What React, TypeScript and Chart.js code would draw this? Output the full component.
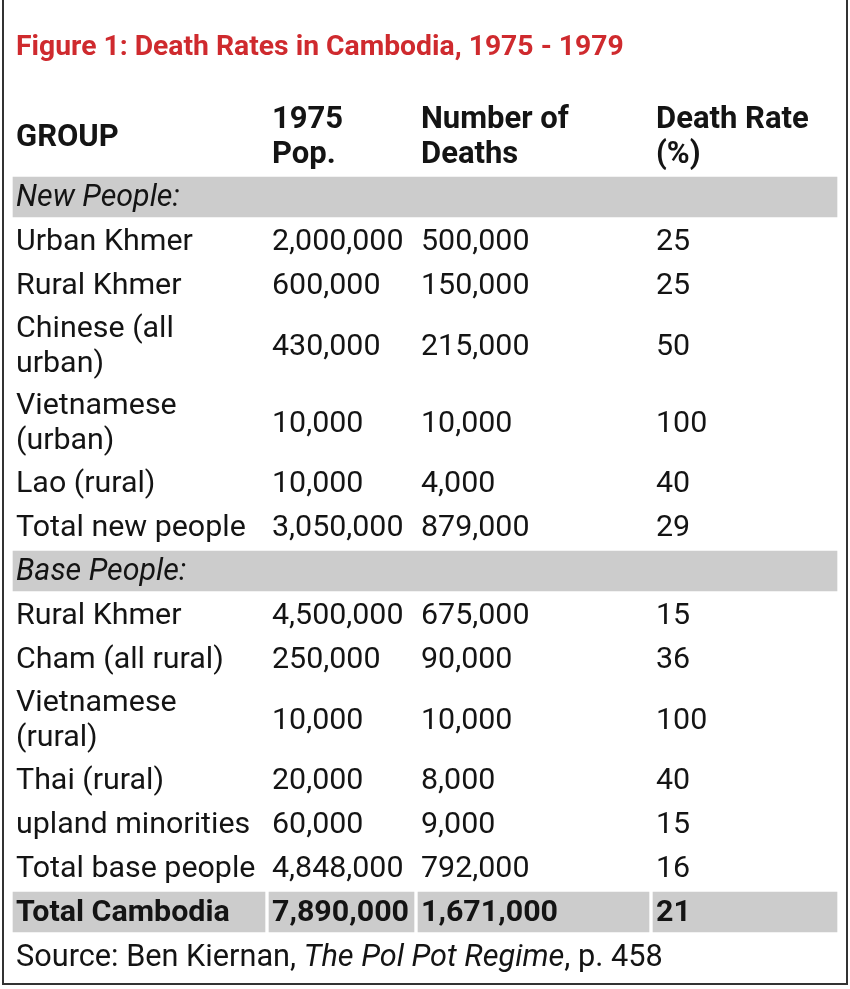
import React, { useEffect, useRef } from 'react';
import { Chart, registerables } from 'chart.js';

Chart.register(...registerables);

// ---- data ----
const TITLE = 'Figure 1: Death Rates in Cambodia, 1975 - 1979';
const HEADERS = [['GROUP'], ['1975', 'Pop.'], ['Number of', 'Deaths'], ['Death Rate', '(%)']];
const SECTIONS = ['New People:', 'Base People:'];

const NEW_GROUPS = ['Urban Khmer', 'Rural Khmer', 'Chinese (all|urban)', 'Vietnamese|(urban)', 'Lao (rural)', 'Total new people'];
const NEW_POP = [2000000, 600000, 430000, 10000, 10000, 3050000];
const NEW_DEATHS = [500000, 150000, 215000, 10000, 4000, 879000];
const NEW_RATE = [25, 25, 50, 100, 40, 29];

const BASE_GROUPS = ['Rural Khmer', 'Cham (all rural)', 'Vietnamese|(rural)', 'Thai (rural)', 'upland minorities', 'Total base people'];
const BASE_POP = [4500000, 250000, 10000, 20000, 60000, 4848000];
const BASE_DEATHS = [675000, 90000, 10000, 8000, 9000, 792000];
const BASE_RATE = [15, 36, 100, 40, 15, 16];

const TOTAL_LABEL = 'Total Cambodia';
const TOTAL_POP = 7890000;
const TOTAL_DEATHS = 1671000;
const TOTAL_RATE = 21;

const SOURCE_PARTS: [string, string][] = [
  ['Source: Ben Kiernan, ', 'normal'],
  ['The Pol Pot Regime', 'italic'],
  [', p. 458', 'normal'],
];

// ---- layout (styles / positions) ----
const W = 850;
const H = 989;
const COLS = [[13, 265], [269, 414], [418, 649], [653, 837]];
const PAD_X = 3;
const HEADER_TOP = 99;
const HEADER_H = 74;
const ROW_GAP = 4;
const SINGLE_H = 40;
const DOUBLE_H = 73;
const LINE_GAP = 35;
const BODY_SIZE = 30.4;
const SOURCE_SIZE = 30.7;
const HEAD_SIZE = 31;
const TITLE_SIZE = 28.3;
const FONT = 'Roboto, "Noto Sans", sans-serif';
const GRAY = '#cccccc';
const TEXT = '#141414';
const RED = '#cf2a2e';

const fmt = (n: number) => n.toLocaleString('en-US');

type Row = { kind: 'section' | 'data' | 'total'; cells: string[][]; top: number; h: number };

function buildRows(): Row[] {
  const rows: Row[] = [];
  let top = HEADER_TOP + HEADER_H + ROW_GAP;
  const push = (kind: Row['kind'], cells: string[][]) => {
    const lines = Math.max(...cells.map((c) => c.length));
    const h = lines > 1 ? DOUBLE_H : SINGLE_H;
    rows.push({ kind, cells, top, h });
    top += h + ROW_GAP;
  };
  const addGroup = (section: string, g: string[], p: number[], d: number[], r: number[]) => {
    push('section', [[section]]);
    g.forEach((name, i) => push('data', [name.split('|'), [fmt(p[i])], [fmt(d[i])], [String(r[i])]]));
  };
  addGroup(SECTIONS[0], NEW_GROUPS, NEW_POP, NEW_DEATHS, NEW_RATE);
  addGroup(SECTIONS[1], BASE_GROUPS, BASE_POP, BASE_DEATHS, BASE_RATE);
  push('total', [[TOTAL_LABEL], [fmt(TOTAL_POP)], [fmt(TOTAL_DEATHS)], [String(TOTAL_RATE)]]);
  return rows;
}

const ROWS = buildRows();
const SOURCE_TOP = ROWS[ROWS.length - 1].top + SINGLE_H + ROW_GAP;

// gray cell backgrounds, drawn as floating bars
const SHADES: { x: [number, number]; y: number }[] = [];
ROWS.forEach((row) => {
  const cy = row.top + row.h / 2;
  if (row.kind === 'section') SHADES.push({ x: [COLS[0][0], COLS[3][1]], y: cy });
  if (row.kind === 'total') COLS.forEach((c) => SHADES.push({ x: [c[0], c[1]], y: cy }));
});

const tablePlugin = {
  id: 'tableText',
  afterDatasetsDraw(chart: any) {
    const { ctx } = chart;
    const xs = chart.scales.x;
    const ys = chart.scales.y;
    const px = (v: number) => xs.getPixelForValue(v);
    const py = (v: number) => ys.getPixelForValue(v);

    const drawLines = (lines: string[], x: number, cy: number, size: number, style: string) => {
      ctx.font = style + ' ' + size + 'px ' + FONT;
      const cap = size * 0.62;
      lines.forEach((ln, i) => {
        const base = cy + (i - (lines.length - 1) / 2) * LINE_GAP + cap / 2;
        ctx.fillText(ln, px(x), py(base));
      });
    };

    ctx.save();
    ctx.textBaseline = 'alphabetic';
    ctx.textAlign = 'left';

    // title
    ctx.fillStyle = RED;
    drawLines([TITLE], COLS[0][0] + PAD_X, 46, TITLE_SIZE, 'bold');

    // header
    ctx.fillStyle = TEXT;
    const hc = HEADER_TOP + HEADER_H / 2;
    HEADERS.forEach((lines, i) => drawLines(lines, COLS[i][0] + PAD_X, hc, HEAD_SIZE, 'bold'));

    // body
    ROWS.forEach((row) => {
      const cy = row.top + row.h / 2;
      const style = row.kind === 'section' ? 'italic' : row.kind === 'total' ? 'bold' : 'normal';
      row.cells.forEach((lines, i) => drawLines(lines, COLS[i][0] + PAD_X, cy, BODY_SIZE, style));
    });

    // source line
    let sx = px(COLS[0][0] + PAD_X);
    const sb = py(SOURCE_TOP + SINGLE_H / 2 + (SOURCE_SIZE * 0.62) / 2);
    SOURCE_PARTS.forEach(([t, st]) => {
      ctx.font = st + ' ' + SOURCE_SIZE + 'px ' + FONT;
      ctx.fillText(t, sx, sb);
      sx += ctx.measureText(t).width;
    });

    // frame
    ctx.strokeStyle = '#333333';
    ctx.lineWidth = 2;
    ctx.beginPath();
    ctx.moveTo(px(3), py(0));
    ctx.lineTo(px(3), py(984));
    ctx.lineTo(px(847), py(984));
    ctx.lineTo(px(847), py(0));
    ctx.stroke();
    ctx.restore();
  },
};

export default function App() {
  const ref = useRef<HTMLCanvasElement | null>(null);
  useEffect(() => {
    if (!ref.current) return;
    const chart = new Chart(ref.current, {
      type: 'bar',
      data: {
        datasets: [
          {
            data: SHADES as any,
            backgroundColor: GRAY,
            borderWidth: 0,
            barThickness: SINGLE_H,
          },
        ],
      },
      options: {
        indexAxis: 'y',
        animation: false,
        responsive: false,
        maintainAspectRatio: false,
        devicePixelRatio: 1,
        layout: { padding: 0 },
        events: [],
        scales: {
          x: { type: 'linear', min: 0, max: W, display: false, offset: false },
          y: { type: 'linear', min: 0, max: H, reverse: true, display: false, offset: false },
        },
        plugins: { legend: { display: false }, tooltip: { enabled: false }, title: { display: false } },
      },
      plugins: [tablePlugin],
    });
    return () => chart.destroy();
  }, []);
  return (
    <div style={{ position: 'fixed', left: 0, top: 0, width: W, height: H, background: '#fff' }}>
      <canvas ref={ref} width={W} height={H} style={{ display: 'block', width: W, height: H }} />
    </div>
  );
}
